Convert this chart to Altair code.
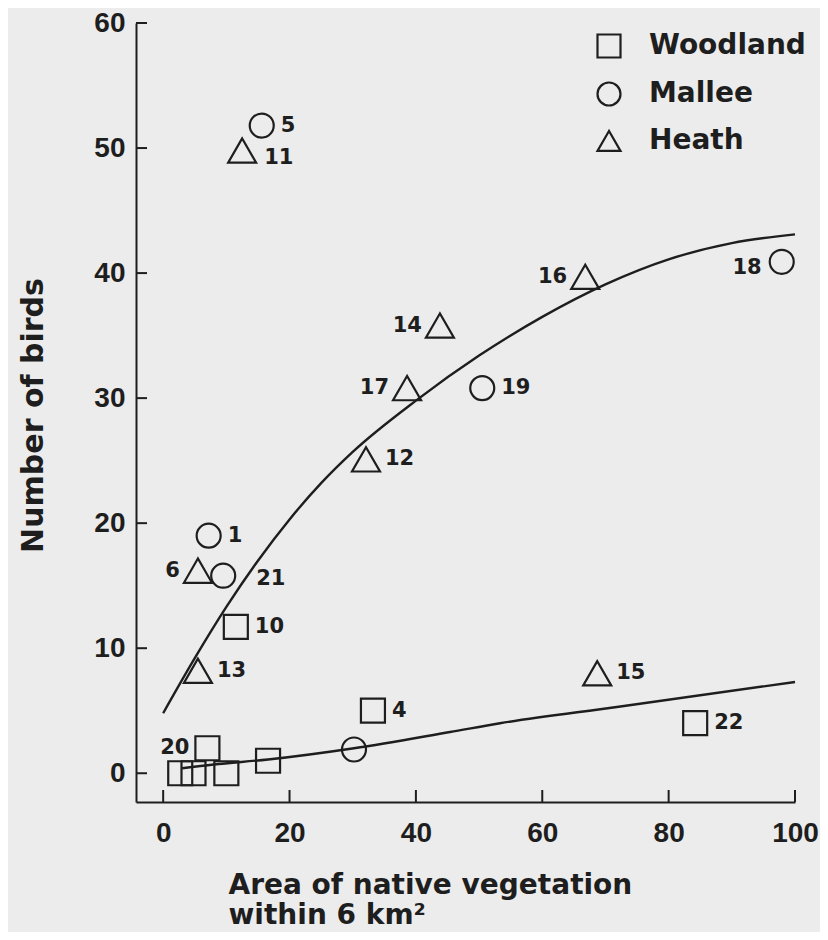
import altair as alt
import pandas as pd

FONT = "DejaVu Sans"
TICKFONT = "Liberation Sans"
INK = "#1e1e1e"

# ---- data ----
habitat = ["Woodland"] * 8 + ["Mallee"] * 6 + ["Heath"] * 8
area = [7.0, 2.7, 4.8, 10.0, 16.6, 33.2, 11.5, 84.2,
        15.6, 7.2, 9.5, 30.2, 50.5, 97.9,
        12.5, 43.8, 38.6, 32.1, 5.5, 5.5, 66.8, 68.7]
birds = [2.0, 0.0, 0.0, 0.0, 1.0, 5.0, 11.7, 4.0,
         51.8, 19.0, 15.8, 1.9, 30.8, 40.9,
         49.8, 35.8, 30.8, 25.1, 16.2, 8.2, 39.7, 8.0]
site = ["20", "", "", "", "", "4", "10", "22",
        "5", "1", "21", "", "19", "18",
        "11", "14", "17", "12", "6", "13", "16", "15"]
side = ["L", "", "", "", "", "R", "R", "R",
        "R", "R", "R2", "", "R", "LD",
        "RD", "L", "L", "R", "L", "R", "L", "R"]

upper_x = [0, 5, 10, 15, 20, 25, 30, 40, 50, 60, 70, 80, 90, 100]
upper_y = [4.8, 9.2, 13.3, 17.0, 20.3, 23.2, 25.7, 29.8, 33.4, 36.5, 39.1, 41.1, 42.4, 43.1]
lower_x = [3.0, 8.0, 16.6, 30.2, 45.4, 53.3, 71.8, 100.0]
lower_y = [0.4, 0.7, 1.1, 2.0, 3.3, 4.0, 5.3, 7.3]

x_ticks = [0, 20, 40, 60, 80, 100]
y_ticks = [0, 10, 20, 30, 40, 50, 60]
hab_order = ["Woodland", "Mallee", "Heath"]

pts = pd.DataFrame({"habitat": habitat, "area": area, "birds": birds,
                    "site": site, "side": side})
curves = pd.DataFrame({
    "area": upper_x + lower_x,
    "birds": upper_y + lower_y,
    "curve": ["upper"] * len(upper_x) + ["lower"] * len(lower_x),
})

W, H = 659, 779
xs = alt.Scale(domain=[-4.3, 100], nice=False, zero=False)
ys = alt.Scale(domain=[-2.3, 60], nice=False, zero=False)

xaxis = alt.Axis(
    values=x_ticks, tickSize=0, labelPadding=17, grid=False,
    labelFont=TICKFONT, labelFontSize=28, labelFontWeight="bold", labelColor=INK,
    labelFlush=False, labelOverlap=False,
    domainColor=INK, domainWidth=2,
    title=["Area of native vegetation", "within 6 km²"],
    titleFont=FONT, titleFontSize=28, titleFontWeight="bold", titleColor=INK,
    titleAlign="left", titleAnchor="start", titleX=92, titleY=91,
    titleBaseline="alphabetic", titleLineHeight=30,
)
yaxis = alt.Axis(
    values=y_ticks, tickSize=0, labelPadding=11, grid=False,
    labelFont=TICKFONT, labelFontSize=28, labelFontWeight="bold", labelColor=INK,
    labelFlush=False, labelOverlap=False,
    domainColor=INK, domainWidth=2,
    title="Number of birds",
    titleFont=FONT, titleFontSize=30, titleFontWeight="bold", titleColor=INK,
    titleAngle=270, titleX=-94, titleY=392, titleBaseline="alphabetic",
)


def X(f):
    return alt.X(f, type="quantitative", scale=xs, axis=xaxis)


def Y(f):
    return alt.Y(f, type="quantitative", scale=ys, axis=yaxis)


shape_enc = alt.Shape(
    "habitat:N",
    scale=alt.Scale(domain=hab_order, range=["square", "circle", "triangle-up"]),
    legend=alt.Legend(
        title=None, orient="none", legendX=459, legendY=9, padding=0,
        symbolSize=529, symbolStrokeWidth=2.2, symbolStrokeColor=INK,
        symbolFillColor="transparent",
        labelFont=FONT, labelFontSize=28, labelFontWeight="bold",
        labelColor=INK, labelOffset=26, rowPadding=16,
    ),
)

lines = alt.Chart(curves).mark_line(
    color=INK, strokeWidth=2.4, interpolate="monotone"
).encode(x=X("area"), y=Y("birds"), detail="curve:N")

points_a = alt.Chart(pts).transform_filter(alt.datum.habitat != "Heath").mark_point(
    filled=False, color=INK, strokeWidth=2.2, opacity=1, size=576
).encode(x=X("area"), y=Y("birds"), shape=shape_enc)

points_b = alt.Chart(pts).transform_filter(alt.datum.habitat == "Heath").mark_point(
    filled=False, color=INK, strokeWidth=2.2, opacity=1, size=784
).encode(x=X("area"), y=Y("birds"), shape=shape_enc)

offsets = {"R": (19, 0, "left"), "L": (-18, 0, "right"), "R2": (33, 3, "left"),
           "RD": (22, 7, "left"), "LD": (-20, 6, "right")}
label_layers = []
for key, (dx, dy, al) in offsets.items():
    label_layers.append(
        alt.Chart(pts).transform_filter(alt.datum.side == key).mark_text(
            font=FONT, fontSize=21, fontWeight="bold", color=INK,
            align=al, baseline="middle", dx=dx, dy=dy,
        ).encode(x=X("area"), y=Y("birds"), text="site:N")
    )

xt = alt.Chart(pd.DataFrame({"v": x_ticks})).mark_rule(
    color=INK, strokeWidth=2
).encode(x=X("v"), y=alt.value(H), y2=alt.value(H - 12))
yt = alt.Chart(pd.DataFrame({"v": y_ticks})).mark_rule(
    color=INK, strokeWidth=2
).encode(y=Y("v"), x=alt.value(0), x2=alt.value(11))

chart = alt.layer(xt, yt, lines, points_a, points_b, *label_layers).properties(
    width=W, height=H,
    padding={"left": 128, "top": 15, "right": 25, "bottom": 130},
    autosize=alt.AutoSizeParams(type="none"),
    background="#ececec",
).configure_view(stroke=None)

chart.save("out.html", embed_options={"renderer": "svg", "actions": False})
